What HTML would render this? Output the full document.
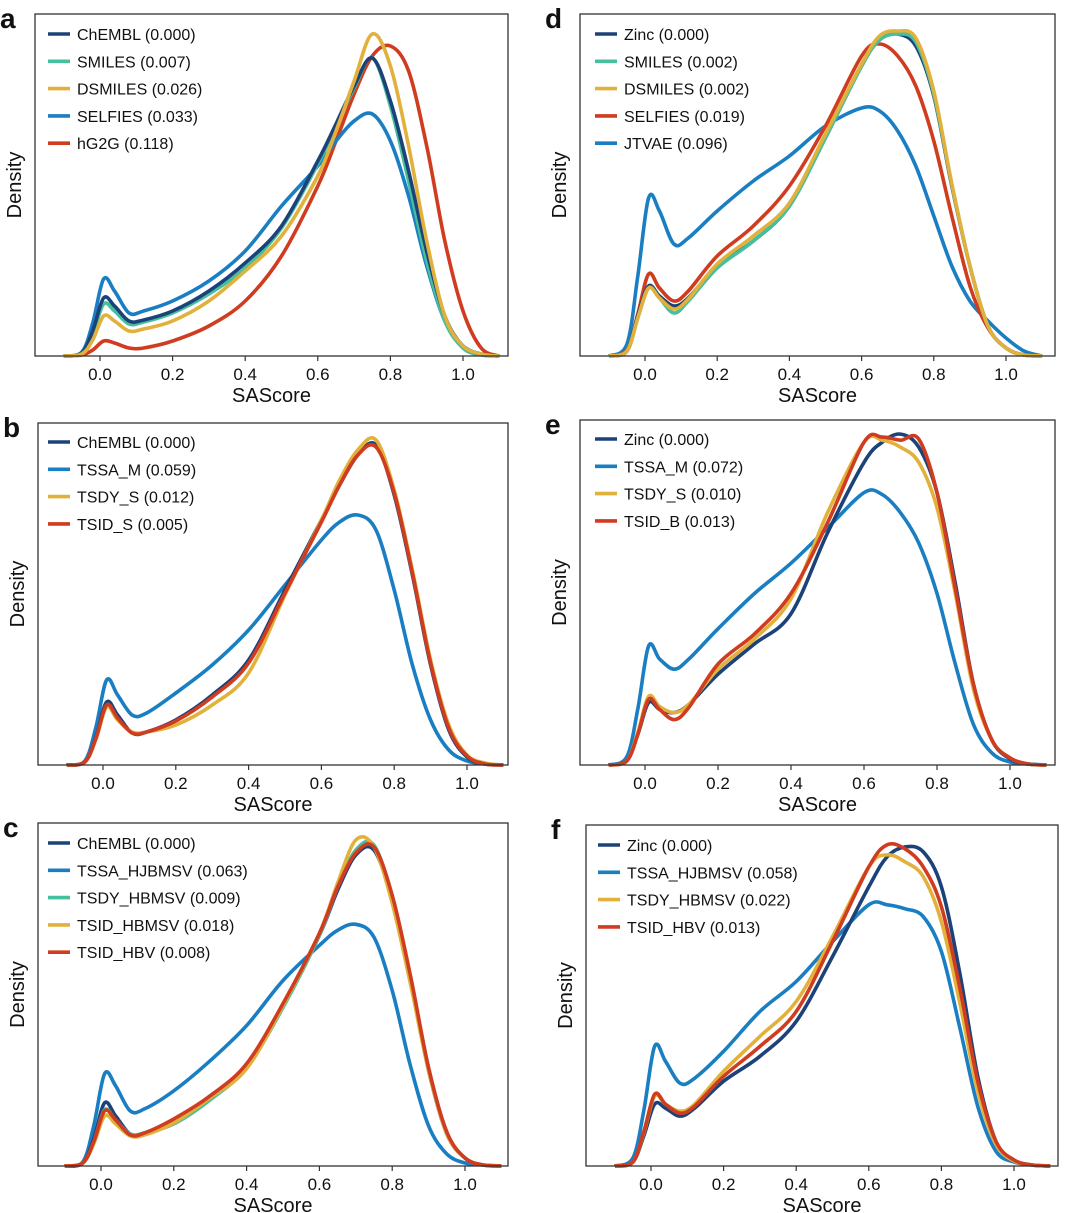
<!DOCTYPE html>
<html><head><meta charset="utf-8"><style>
html,body{margin:0;padding:0;background:#fff;}
svg{display:block;font-family:"Liberation Sans",sans-serif;}
</style></head><body>
<svg id="fig" width="1080" height="1213" viewBox="0 0 1080 1213"></svg>
<script>
const xs = [-0.1,-0.05,-0.02,0.01,0.04,0.08,0.12,0.2,0.3,0.4,0.5,0.6,0.65,0.7,0.75,0.8,0.85,0.9,0.95,1.0,1.05,1.1];
const xTicks = [0,0.2,0.4,0.6,0.8,1.0];
const xTickLabels = ["0.0","0.2","0.4","0.6","0.8","1.0"];
const C = {navy:"#1b4279",teal:"#46bf9e",gold:"#e2b13c",blue:"#1a7ec2",red:"#d03c1f"};

const aNames = ["ChEMBL (0.000)","SMILES (0.007)","DSMILES (0.026)","SELFIES (0.033)","hG2G (0.118)"];
const aChembl = [0,3,25,58,50,35,36,45,65,93,130,195,232,270,298,255,185,105,40,10,2,0];
const aSmiles = [0,3,22,52,45,32,34,43,62,88,128,192,230,268,298,250,175,95,35,8,1,0];
const aDsmiles = [0,2,16,40,35,25,27,35,55,85,120,180,225,275,322,290,210,115,40,10,2,0];
const aSelfies = [0,4,33,77,65,43,45,55,75,105,150,190,215,235,242,215,160,90,35,10,2,0];
const aHg2g = [0,1,6,15,13,8,8,15,30,55,100,170,215,262,300,310,285,210,115,45,8,0];

const bNames = ["ChEMBL (0.000)","TSSA_M (0.059)","TSDY_S (0.012)","TSID_S (0.005)"];
const bChembl = [0,3,27,63,50,32,33,45,70,105,175,245,280,310,320,270,190,100,35,8,1,0];
const bTssa = [0,4,37,85,70,50,52,72,100,135,180,225,243,250,235,175,100,45,15,4,1,0];
const bTsdy = [0,3,25,58,45,33,33,40,60,92,170,245,285,315,325,275,195,105,40,10,2,0];
const bTsid = [0,3,26,60,47,32,33,44,68,102,172,243,280,310,318,272,192,102,37,9,1,0];

const cNames = ["ChEMBL (0.000)","TSSA_HJBMSV (0.063)","TSDY_HBMSV (0.009)","TSID_HBMSV (0.018)","TSID_HBV (0.008)"];
const cChembl = [0,3,27,63,50,32,33,45,70,100,160,230,275,310,315,265,185,95,32,8,1,0];
const cTssa = [0,4,40,92,80,55,57,75,105,140,185,220,235,241,228,175,100,40,12,3,1,0];
const cTsdy = [0,3,24,56,46,32,33,42,66,98,158,230,278,315,320,268,188,97,33,8,1,0];
const cTsidM = [0,3,22,50,42,30,31,43,68,97,160,232,282,325,318,262,182,95,32,8,1,0];
const cTsidV = [0,3,24,55,46,31,33,47,70,102,162,232,278,312,318,270,190,98,34,8,1,0];

const dNames = ["Zinc (0.000)","SMILES (0.002)","DSMILES (0.002)","SELFIES (0.019)","JTVAE (0.096)"];
const dZinc = [0,5,40,70,60,50,58,90,115,150,220,290,318,322,310,260,170,90,30,8,1,0];
const dSmiles = [0,5,38,68,58,43,55,88,115,150,218,290,316,322,314,262,172,90,30,8,1,0];
const dDsmiles = [0,5,38,68,58,47,57,92,120,153,222,292,320,325,318,265,172,90,30,8,1,0];
const dSelfies = [0,6,42,82,68,55,65,100,130,170,230,300,312,300,270,215,140,70,28,8,1,0];
const dJtvae = [0,12,80,158,145,112,118,145,175,200,230,248,245,225,190,140,90,55,35,18,5,0];

const eNames = ["Zinc (0.000)","TSSA_M (0.072)","TSDY_S (0.010)","TSID_B (0.013)"];
const eZinc = [0,4,30,62,55,52,60,90,120,150,230,300,320,328,315,270,180,80,25,6,1,0];
const eTssa = [0,8,55,118,105,95,105,135,170,200,235,270,268,250,220,170,100,40,12,3,1,0];
const eTsdy = [0,4,32,68,58,52,60,95,125,165,250,320,322,315,300,255,170,75,25,7,1,0];
const eTsid = [0,4,30,65,55,45,57,100,130,170,240,320,325,322,323,270,175,80,25,7,1,0];

const fNames = ["Zinc (0.000)","TSSA_HJBMSV (0.058)","TSDY_HBMSV (0.022)","TSID_HBV (0.013)"];
const fZinc = [0,4,30,62,58,50,58,85,110,145,210,280,310,320,315,280,195,90,25,6,1,0];
const fTssa = [0,8,55,120,105,83,88,115,155,185,225,262,262,258,250,215,140,60,15,4,1,0];
const fTsdy = [0,4,33,70,62,55,62,95,130,165,230,300,312,305,290,245,165,75,22,5,1,0];
const fTsid = [0,4,34,72,62,53,60,90,120,155,225,300,322,318,300,260,180,85,25,6,1,0];

const panels = [
 {id:"a",L:35,T:14,R:508,B:356,p0:100,p1:463,ly:34,lx:48,names:aNames,series:[aChembl,aSmiles,aDsmiles,aSelfies,aHg2g],cols:[C.navy,C.teal,C.gold,C.blue,C.red],order:[4,3,1,0,2]},
 {id:"b",L:38,T:423,R:508,B:765,p0:103,p1:467,ly:442,lx:48,names:bNames,series:[bChembl,bTssa,bTsdy,bTsid],cols:[C.navy,C.blue,C.gold,C.red],order:[1,0,2,3]},
 {id:"c",L:38,T:823,R:508,B:1166,p0:101,p1:465,ly:843,lx:48,names:cNames,series:[cChembl,cTssa,cTsdy,cTsidM,cTsidV],cols:[C.navy,C.blue,C.teal,C.gold,C.red],order:[1,0,2,3,4]},
 {id:"d",L:580,T:14,R:1055,B:356,p0:645,p1:1006,ly:34,lx:595,names:dNames,series:[dZinc,dSmiles,dDsmiles,dSelfies,dJtvae],cols:[C.navy,C.teal,C.gold,C.red,C.blue],order:[4,3,0,1,2]},
 {id:"e",L:580,T:420,R:1055,B:765,p0:645,p1:1010,ly:439,lx:595,names:eNames,series:[eZinc,eTssa,eTsdy,eTsid],cols:[C.navy,C.blue,C.gold,C.red],order:[1,0,2,3]},
 {id:"f",L:586,T:825,R:1058,B:1166,p0:651,p1:1014,ly:845,lx:598,names:fNames,series:[fZinc,fTssa,fTsdy,fTsid],cols:[C.navy,C.blue,C.gold,C.red],order:[1,0,2,3]}
];
const NS="http://www.w3.org/2000/svg";
const svg=document.getElementById("fig");
function mk(tag,attrs,parent){const e=document.createElementNS(NS,tag);for(const k in attrs)e.setAttribute(k,attrs[k]);(parent||svg).appendChild(e);return e;}
function pathFrom(pts){let d="M"+pts[0][0].toFixed(1)+","+pts[0][1].toFixed(1);
 for(let i=0;i<pts.length-1;i++){const p0=pts[i-1]||pts[i],p1=pts[i],p2=pts[i+1],p3=pts[i+2]||p2;
  const c1=[p1[0]+(p2[0]-p0[0])/6,p1[1]+(p2[1]-p0[1])/6],c2=[p2[0]-(p3[0]-p1[0])/6,p2[1]-(p3[1]-p1[1])/6];
  d+=" C"+c1[0].toFixed(1)+","+c1[1].toFixed(1)+" "+c2[0].toFixed(1)+","+c2[1].toFixed(1)+" "+p2[0].toFixed(1)+","+p2[1].toFixed(1);}
 return d;}
panels.forEach(P=>{
 const g=mk("g",{});
 
 
 const xS=v=>P.p0+v*(P.p1-P.p0);
 const yS=v=>P.B-v*(P.B-P.T)/342;
 const cg=mk("g",{},g);
 
 
 P.order.forEach(i=>{
  const pts=xs.map((x,j)=>[xS(x),yS(P.series[i][j])]);
  const p=mk("path",{d:pathFrom(pts),fill:"none",stroke:P.cols[i],"stroke-width":3.6,"stroke-linejoin":"round"},cg);
  
  
 });
 const fr=mk("rect",{x:P.L,y:P.T,width:P.R-P.L,height:P.B-P.T,fill:"none",stroke:"#333","stroke-width":1.3},g);
 
 
 xTicks.forEach((t,k)=>{
  mk("line",{x1:xS(t),x2:xS(t),y1:P.B,y2:P.B+5,stroke:"#333","stroke-width":1.2},g);
  const tx=mk("text",{x:xS(t),y:P.B+24,"text-anchor":"middle","font-size":17,fill:"#111"},g);
  tx.textContent=xTickLabels[k];
  
  
 });
 const xt=mk("text",{x:(P.L+P.R)/2,y:P.B+46,"text-anchor":"middle","font-size":20,fill:"#111"},g);
 xt.textContent="SAScore";
 
 
 const cy=(P.T+P.B)/2;
 const yt=mk("text",{x:P.L-14,y:cy,"text-anchor":"middle","font-size":20,fill:"#111",transform:"rotate(-90 "+(P.L-14)+" "+cy+")"},g);
 yt.textContent="Density";
 
 
 const lt=mk("text",{x:P.L-35,y:P.T+14,"font-size":28,"font-weight":"bold",fill:"#111"},g);
 lt.textContent=P.id;
 
 
 P.names.forEach((n,i)=>{
  const y=P.ly+i*27.3;
  const le=mk("g",{},g);
  
  
  mk("line",{x1:P.lx,x2:P.lx+22,y1:y,y2:y,stroke:P.cols[i],"stroke-width":3.6},le);
  const t=mk("text",{x:P.lx+29,y:y+6,"font-size":16,fill:"#111"},le);
  t.textContent=n;
 });
});
</script>
</body></html>
